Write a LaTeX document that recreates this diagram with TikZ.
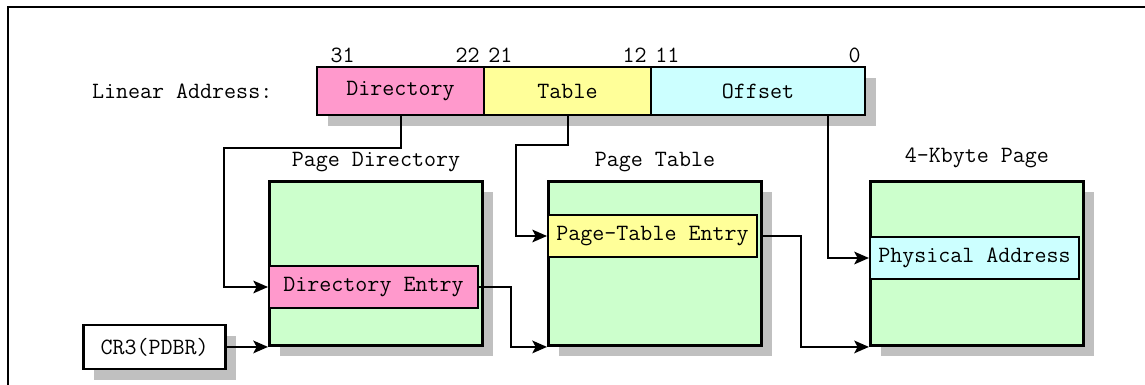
\documentclass[tikz,border=0pt]{standalone}
\usepackage{tikz}
\usetikzlibrary{arrows.meta, positioning, shadows, calc}
\definecolor{DirPink}{RGB}{255,153,204}
\definecolor{TabYellow}{RGB}{255,255,153}
\definecolor{OffCyan}{RGB}{204,255,255}
\definecolor{PageGreen}{RGB}{204,255,204}
\definecolor{ShadowGray}{RGB}{192,192,192}

\begin{document}
\begin{tikzpicture}[
  x=0.75pt, y=-0.75pt,
  font=\fontsize{17.5}{19}\selectfont\ttfamily,
  grayshadow/.style={drop shadow={shadow xshift=8pt, shadow yshift=-8pt,
                     fill=ShadowGray, opacity=1}},
  field/.style={rectangle, draw=black, line width=2pt, inner sep=0pt,
                outer sep=0pt, minimum height=36pt, grayshadow},
  pagebox/.style={rectangle, draw=black, line width=2.2pt, fill=PageGreen,
                  minimum width=159.75pt, minimum height=123pt,
                  anchor=north west, grayshadow},
  entry/.style={rectangle, draw=black, line width=1.5pt, inner sep=0pt,
                minimum width=156.75pt, minimum height=31.5pt,
                anchor=north west},
  title/.style={inner sep=0pt},
  bit/.style={inner sep=3pt},
  link/.style={line width=1.5pt, -{Stealth[length=11pt, width=9.5pt, inset=2.5pt]}},
  frame/.style={line width=1.5pt}
]
\useasboundingbox (0,0) rectangle (1145,385);

% Outer frame
\draw[frame] (8,385) -- (8,7) -- (1145,7);

% Linear address fields
\node[field, fill=DirPink, minimum width=125.25pt, anchor=north west]
  (dirf) at (317,67) {Directory};
\node[field, fill=TabYellow, minimum width=125.25pt, right=0pt of dirf] (tabf) {Table};
\node[field, fill=OffCyan, minimum width=160.5pt, right=0pt of tabf]   (offf) {Offset};
\node[left=30pt of dirf] (lin) {Linear Address:};

% Bit numbers
\node[bit, anchor=south west, xshift=7pt] at (dirf.north west) {31};
\node[bit, anchor=south east] at (dirf.north east) {22};
\node[bit, anchor=south west] at (tabf.north west) {21};
\node[bit, anchor=south east] at (tabf.north east) {12};
\node[bit, anchor=south west] at (offf.north west) {11};
\node[bit, anchor=south east] at (offf.north east) {0};

% Tables
\node[pagebox] (pd) at (268,180) {};
\node[pagebox, right=47.3pt of pd] (pt) {};
\node[pagebox, right=79.5pt of pt] (pg) {};

\node[title, above=6pt of pd] {Page Directory};
\node[title, above=6pt of pt] {Page Table};
\node[title, above=9pt of pg] {4-Kbyte Page};

% Entries
\node[entry, fill=DirPink]   (dent)  at ($(pd.north west)+(0,85)$) {Directory Entry};
\node[entry, fill=TabYellow] (ptent) at ($(pt.north west)+(0,34)$) {Page-Table Entry};
\node[entry, fill=OffCyan]   (pent)  at ($(pg.north west)+(0,56)$) {Physical Address};

% CR3
\node[rectangle, draw=black, line width=2pt, fill=white, minimum width=106.5pt,
      minimum height=33pt, anchor=east, grayshadow]
  (cr3) at ($(pd.south west)+(-41,0)$) {CR3(PDBR)};

% Arrows
\draw[link] (dirf.south) -- ++(0,33) -| ($(dent.west)+(-44,0)$) -- (dent.west);
\draw[link] (tabf.south) -- ++(0,30) -| ($(ptent.west)+(-31,0)$) -- (ptent.west);
\draw[link] ($(offf.south)+(70,0)$) |- (pent.west);
\draw[link] (dent.east) -- ++(32,0) |- (pt.south west);
\draw[link] (ptent.east -| pt.east) -- ++(38,0) |- (pg.south west);
\draw[link] (cr3.east) -- (pd.south west);

\end{tikzpicture}
\end{document}
